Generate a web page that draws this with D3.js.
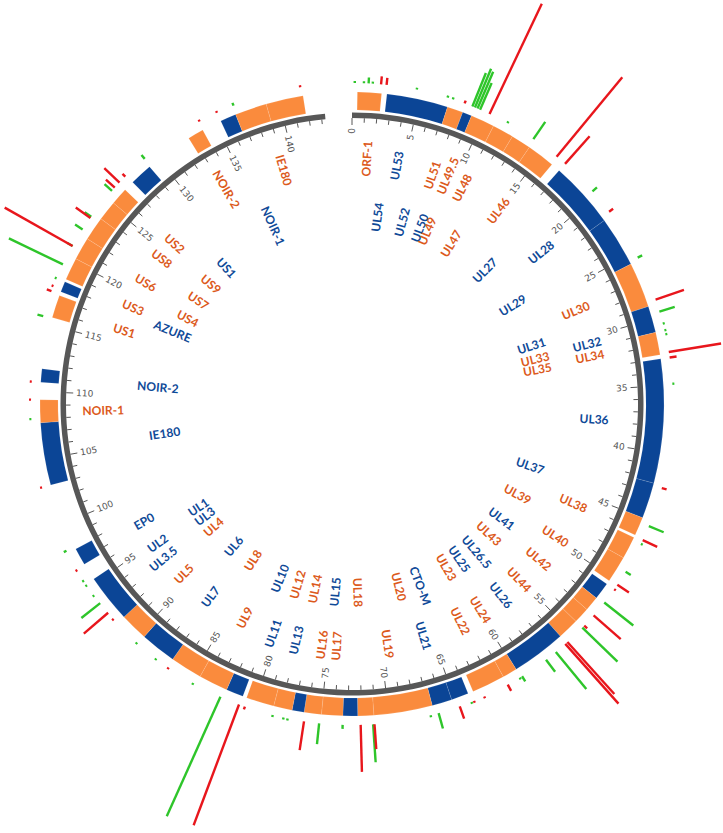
<!DOCTYPE html>
<html><head><meta charset="utf-8">
<script src="https://cdn.jsdelivr.net/npm/d3@7"></script>
<style>body{margin:0;background:#fff}</style>
</head><body><svg id="chart" width="723" height="833"></svg>
<script>
// ---------- DATA ----------
const genomeSpan = 145.45;      // kb represented by a full turn
const axisEnd = 143.3;          // end of the genome axis (kb)
const tickLabels = [0,5,10,15,20,25,30,35,40,45,50,55,60,65,70,75,80,85,90,95,100,105,110,115,120,125,130,135,140];

const blockStart = [0.4,2.6,7.2,8.4,9.1,10.9,12.5,14.0,16.8,21.8,25.6,29.0,31.0,33.0,42.3,45.0,46.6,48.3,50.6,51.9,53.0,54.2,55.8,59.9,61.0,63.9,65.2,66.7,71.1,72.3,73.4,75.0,76.3,77.2,78.6,81.0,82.3,84.5,86.9,89.6,91.7,96.6,103.0,107.7,110.7,115.6,117.6,118.6,120.3,122.0,123.8,125.3,127.4,132.7,135.4,136.6,139.0];
const blockEnd   = [2.2,7.2,8.4,9.1,10.9,12.5,14.0,16.1,21.8,25.6,29.0,31.0,32.7,42.3,45.0,46.4,48.3,50.3,51.9,53.0,54.2,55.8,59.9,61.0,63.5,65.2,66.7,71.1,72.3,73.4,75.0,76.3,77.2,78.6,80.7,82.3,84.5,86.9,89.6,91.7,95.3,97.9,107.7,109.4,111.7,117.3,118.4,120.3,122.0,123.8,125.3,126.6,129.1,133.9,136.6,139.0,141.8];
const blockType  = ["O","B","O","B","O","O","O","O","B","B","O","B","O","B","B","O","O","O","B","O","O","O","B","O","O","B","B","O","O","B","O","O","B","O","O","B","O","O","B","O","B","B","B","O","B","O","B","O","O","O","O","O","B","O","B","O","O"];

const labelNames = ["ORF-1","UL53","UL51","UL49.5","UL48","UL46","UL54","UL52","UL50","UL49","UL47","UL28","UL27","UL29","UL30","UL31","UL33","UL35","UL32","UL34","UL36","UL37","UL39","UL38","UL41","UL40","UL43","UL42","UL26.5","UL25","UL23","UL44","UL26","UL24","UL22","CTO-M","UL20","UL18","UL21","UL19","UL15","UL14","UL12","UL10","UL8","UL6","UL4","UL3","UL1","UL17","UL16","UL13","UL11","UL9","UL7","UL5","UL3.5","UL2","EP0","IE180","NOIR-1","NOIR-2","US1","US3","US6","US8","US2","AZURE","US4","US7","US9","US1","NOIR-2","NOIR-1","IE180"];
const labelPos   = [1.4,4.3,7.8,9.2,10.9,15.0,3.1,6.2,8.5,9.5,12.8,20.7,18.1,23.6,27.2,29.1,30.8,32.1,30.6,31.8,37.8,44.1,47.9,46.1,51.5,49.7,53.9,52.4,56.5,58.7,60.6,55.1,57.4,59.8,62.0,64.4,66.9,72.0,65.8,69.3,74.8,77.3,79.5,81.8,85.8,88.8,92.3,94.0,95.4,74.2,75.6,78.1,80.4,83.5,87.4,90.8,93.2,94.7,97.2,105.5,108.5,111.1,116.3,118.7,121.4,124.2,126.1,118.0,120.2,122.8,125.4,128.2,133.2,135.8,138.9];
const labelLevel = [1,1,1,1,1,1,0,0,0,0,0,1,0,0,1,0,0,0,1,1,1,0,0,1,0,1,0,1,0,0,0,1,1,1,1,0,0,0,1,1,0,0,0,0,0,0,0,0,0,1,1,1,1,1,1,1,1,1,1,0,1,0,1,1,1,1,1,0,0,0,0,0,1,0,1];
const labelType  = ["O","B","O","O","O","O","B","B","B","O","O","B","B","B","O","B","O","O","B","O","B","B","O","O","B","O","O","O","B","B","O","O","B","O","O","B","O","O","B","O","B","O","O","B","O","B","O","B","B","O","O","B","B","O","B","O","B","B","B","B","O","B","O","O","O","O","O","B","O","O","O","B","O","B","O"];

const redPos = [2.1,2.5,8.3,10.25,16.0,16.8,21.5,28.7,32.6,33.0,42.5,46.5,50.2,50.6,53.0,54.0,55.7,55.9,61.0,62.9,63.7,64.8,71.1,72.1,76.2,80.6,81.05,86.8,92.1,92.7,96.5,103.0,109.4,110.7,117.4,117.8,121.0,123.4,126.2,126.7,127.3,134.0,135.4,141.7];
const redVal = [8,7,3,122,103,37,5,30,53,7,5,16,14,2,36,4,70,80,7,2,2,13,25,47,29,3,129,2,2,32,2,2,2,2,5,2,78,18,12,21,4,2,2,2];
const greenPos = [0.2,0.86,1.2,1.5,4.7,7.0,7.4,8.9,9.1,9.3,9.5,11.7,13.9,19.6,25.4,29.6,30.5,31.0,31.3,34.9,45.4,46.8,49.1,51.8,54.2,56.8,57.7,59.8,60.0,63.9,66.4,67.0,71.2,73.4,75.1,77.4,77.7,78.5,82.5,84.7,87.9,89.7,93.6,94.3,95.2,95.6,98.1,108.0,115.5,118.4,119.5,121.0,122.4,123.5,125.9,129.2,136.7];
const greenVal = [2,2,6,2,2,2,2,36,42,40,29,2,21,6,5,16,2,2,2,2,16,2,6,37,49,48,15,6,2,2,16,2,38,4,21,2,2,2,131,2,2,2,24,2,2,2,3,2,6,2,60,6,9,8,10,5,3];

// ---------- STYLE ----------
const W = 723, H = 833, cx = 352, cy = 404;
const col = {O: "#fa8b3d", B: "#0b4596"};
const txt = {O: "#dc5a1c", B: "#0f4a98"};

const svg = d3.select("#chart");
svg.append("rect").attr("width", W).attr("height", H).attr("fill", "#fff");
const g = svg.append("g").attr("transform", `translate(${cx},${cy})`);

const ang = d3.scaleLinear().domain([0, genomeSpan]).range([0, 2 * Math.PI]);
const deg = v => ang(v) * 180 / Math.PI;
const rBar = d3.scaleLinear().domain([0, 140]).range([321, 461]);

// gene blocks
const blockArc = d3.arc().innerRadius(294).outerRadius(312);
g.selectAll("path.block").data(blockStart.map((s, i) => ({s, e: blockEnd[i], t: blockType[i]})))
  .join("path").attr("class", "block")
  .attr("d", d => blockArc({startAngle: ang(d.s), endAngle: ang(d.e)}))
  .attr("fill", d => col[d.t])
  .attr("stroke", "#fff").attr("stroke-opacity", 0.18).attr("stroke-width", 0.6);

// axis ring
g.append("path")
  .attr("d", d3.arc().innerRadius(286).outerRadius(291.5)({startAngle: ang(0), endAngle: ang(axisEnd)}))
  .attr("fill", "#575757");

// ticks
const minor = d3.range(0, Math.floor(axisEnd) + 1);
g.selectAll("line.tick").data(minor).join("line").attr("class", "tick")
  .attr("x1", d => 286 * Math.sin(ang(d))).attr("y1", d => -286 * Math.cos(ang(d)))
  .attr("x2", d => (d % 5 === 0 ? 279 : 281.5) * Math.sin(ang(d)))
  .attr("y2", d => -(d % 5 === 0 ? 279 : 281.5) * Math.cos(ang(d)))
  .attr("stroke", "#575757").attr("stroke-width", 1);

g.selectAll("text.tl").data(tickLabels).join("text").attr("class", "tl")
  .attr("transform", d => deg(d) < 180
      ? `rotate(${deg(d) - 90}) translate(276,0)`
      : `rotate(${deg(d) - 90}) translate(276,0) rotate(180)`)
  .attr("text-anchor", d => deg(d) < 180 ? "end" : "start")
  .attr("dominant-baseline", "central")
  .attr("font-family", "DejaVu Sans, sans-serif").attr("font-size", 9)
  .attr("fill", "#555").text(d => d);

// bars
function bars(pos, val, color) {
  g.append("g").selectAll("line").data(pos.map((p, i) => ({p, v: val[i]})))
    .join("line")
    .attr("x1", d => rBar(0) * Math.sin(ang(d.p))).attr("y1", d => -rBar(0) * Math.cos(ang(d.p)))
    .attr("x2", d => rBar(d.v) * Math.sin(ang(d.p))).attr("y2", d => -rBar(d.v) * Math.cos(ang(d.p)))
    .attr("stroke", color).attr("stroke-width", 2.4);
}
bars(greenPos, greenVal, "#2ec52a");
bars(redPos, redVal, "#e8161c");

// gene labels
const lvlR = [174, 228];
g.selectAll("text.gl").data(labelNames.map((n, i) => ({n, p: labelPos[i], l: labelLevel[i], t: labelType[i]})))
  .join("text").attr("class", "gl")
  .attr("transform", d => deg(d.p) < 180
      ? `rotate(${deg(d.p) - 90}) translate(${lvlR[d.l]},0)`
      : `rotate(${deg(d.p) - 90}) translate(${lvlR[d.l]},0) rotate(180)`)
  .attr("text-anchor", d => deg(d.p) < 180 ? "start" : "end")
  .attr("dominant-baseline", "central")
  .attr("font-family", "Lato, sans-serif").attr("font-weight", 700).attr("font-size", 12)
  .attr("fill", d => txt[d.t]).text(d => d.n);
</script>
</body></html>
